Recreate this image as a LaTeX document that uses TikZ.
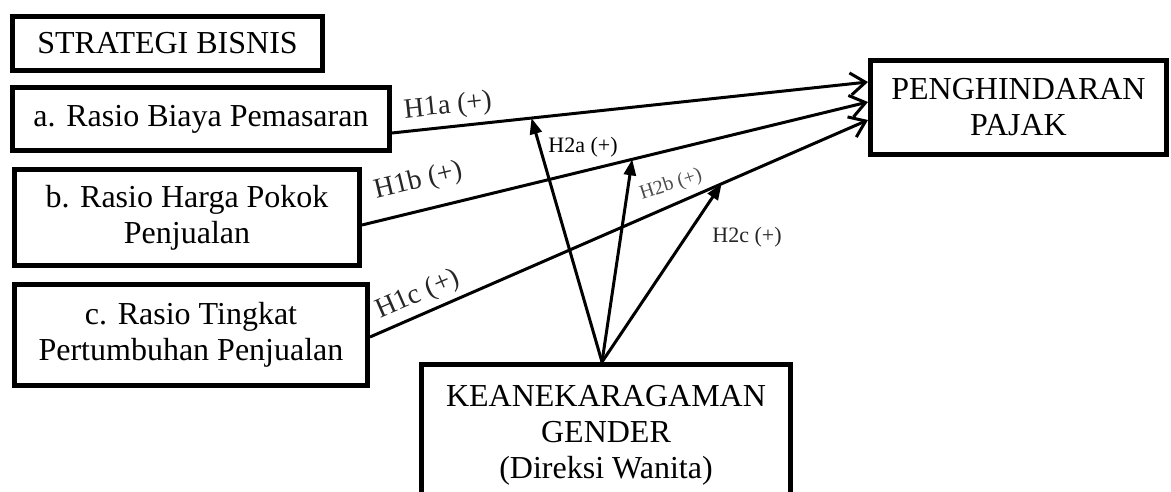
\documentclass[tikz,border=0pt]{standalone}
\usepackage{fontspec}
\setmainfont{Liberation Serif}
\usetikzlibrary{arrows.meta}
\begin{document}
\begin{tikzpicture}[x=1pt,y=-1pt,
  box/.style={draw, line width=5pt, align=center, font=\fontsize{32}{36}\selectfont, inner sep=0pt},
  conn/.style={line width=3pt, -{Straight Barb[length=15pt,width=22pt]}},
  mod/.style={line width=3pt, -{Triangle[length=16pt,width=12pt]}},
  hlab/.style={font=\fontsize{28}{30}\selectfont, sloped, inner sep=2pt, text=black!85},
  slab/.style={font=\fontsize{22}{24}\selectfont, inner sep=0pt}]
\useasboundingbox (0,0) rectangle (1171,492);
\clip (0,0) rectangle (1171,492);
% boxes
\node[box, minimum width=310pt, minimum height=54pt] (strat) at (167.5,43.5) {STRATEGI BISNIS};
\node[box, minimum width=377pt, minimum height=63pt] (ra) at (201,119) {a. Rasio Biaya Pemasaran};
\node[box, minimum width=345pt, minimum height=96pt] (rb) at (187,217.5) {b. Rasio Harga Pokok\\Penjualan};
\node[box, minimum width=353pt, minimum height=101pt] (rc) at (191,335) {c. Rasio Tingkat\\Pertumbuhan Penjualan};
\node[box, minimum width=296pt, minimum height=94pt] (pen) at (1018.5,107.5) {PENGHINDARAN\\PAJAK};
\node[box, minimum width=369pt, minimum height=141pt] (gen) at (606,435) {KEANEKARAGAMAN\\GENDER\\(Direksi Wanita)};
% main paths
\draw[conn] ([yshift=-14pt]ra.east) -- coordinate[pos=0.293] (pa)
  node[hlab, pos=0.122, above=4pt] {H1a (+)} ([yshift=25.5pt]pen.west);
\draw[conn] ([yshift=-7.5pt]rb.east) -- coordinate[pos=0.534] (pb)
  node[hlab, pos=0.125, above=13pt] {H1b (+)} ([yshift=5.5pt]pen.west);
\draw[conn] ([yshift=-2pt]rc.east) -- coordinate[pos=0.706] (pc)
  node[hlab, pos=0.112, above=3pt] {H1c (+)} ([yshift=-12.5pt]pen.west);
% moderating paths
\draw[mod] ([xshift=-4pt]gen.north) -- (pa);
\draw[mod] ([xshift=-4pt]gen.north) -- (pb);
\draw[mod] ([xshift=-4pt]gen.north) -- (pc);
% moderating labels
\node[slab] (l2a) at (583,147) {H2a (+)};
\node[slab, rotate=18, font=\fontsize{20}{22}\selectfont, text=black!70] (l2b) at (671,185) {H2b (+)};
\node[slab, text=black!85] (l2c) at (747,237) {H2c (+)};
\end{tikzpicture}
\end{document}
